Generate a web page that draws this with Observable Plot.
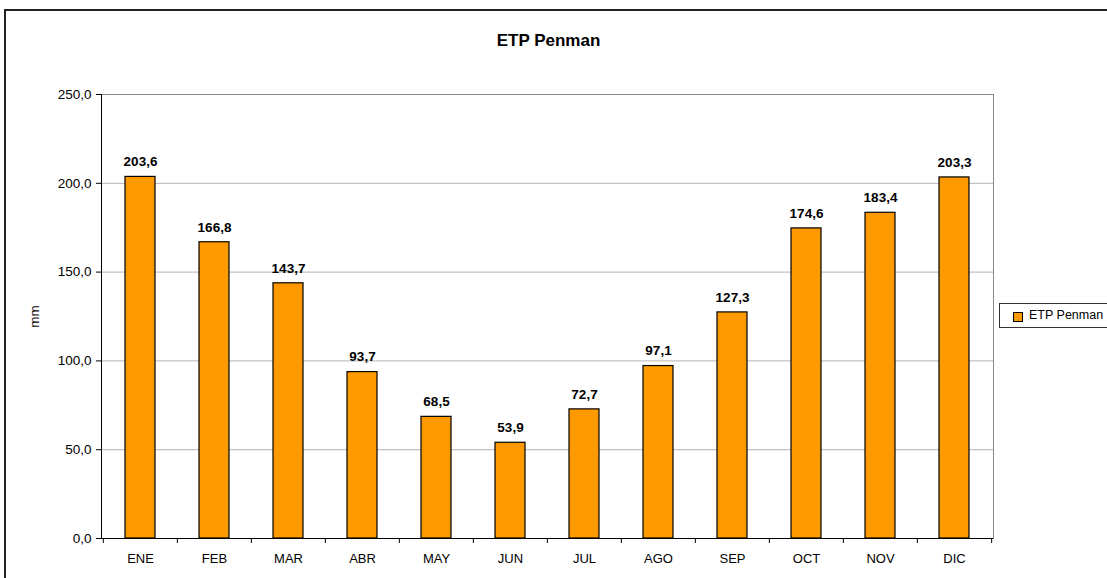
<!DOCTYPE html>
<html>
<head>
<meta charset="utf-8">
<script src="https://cdn.jsdelivr.net/npm/d3@7"></script>
<script src="https://cdn.jsdelivr.net/npm/@observablehq/plot@0.6"></script>
<style>
  html, body { margin: 0; padding: 0; background: #fff; overflow: hidden; }
  #wrap { position: relative; width: 1107px; height: 578px; font-family: "Liberation Sans", Arial, sans-serif; }
  #border { position: absolute; left: 4px; top: 9px; width: 1120px; height: 600px; border: 2px solid #222; box-sizing: border-box; pointer-events: none; }
  #title { position: absolute; left: 0; width: 1097px; top: 31px; text-align: center; font-weight: bold; font-size: 17px; }
  #legend { position: absolute; left: 999px; top: 303px; width: 130px; height: 25px; border: 1px solid #333; box-sizing: border-box; background: #fff; font-size: 12.5px; white-space: nowrap; }
  #legend .sw { position: absolute; left: 13px; top: 8px; width: 8px; height: 8px; background: #FF9900; border: 1px solid #000; }
  #legend .lb { position: absolute; left: 29px; top: 4px; }
  #chart { position: absolute; left: 0; top: 0; }
</style>
</head>
<body>
<div id="wrap">
  <div id="chart"></div>
  <div id="title">ETP Penman</div>
  <div id="legend"><div class="sw"></div><div class="lb">ETP Penman</div></div>
  <div id="border"></div>
</div>
<script>
const months = ["ENE","FEB","MAR","ABR","MAY","JUN","JUL","AGO","SEP","OCT","NOV","DIC"];
const values = [203.6, 166.8, 143.7, 93.7, 68.5, 53.9, 72.7, 97.1, 127.3, 174.6, 183.4, 203.3];
const yTicks = [0, 50, 100, 150, 200, 250];

const data = months.map((m, i) => ({month: m, value: values[i]}));
const fmt = v => v.toFixed(1).replace(".", ",");

const W = 1107, H = 578, mL = 101, mR = 114, mT = 94, mB = 40;
const step = (W - mL - mR) / months.length;

const chart = Plot.plot({
  width: W, height: H,
  marginLeft: mL, marginRight: mR, marginTop: mT, marginBottom: mB,
  style: {fontFamily: "'Liberation Sans', Arial, sans-serif", background: "transparent"},
  x: {domain: months, paddingInner: 0.6, paddingOuter: 0.3, label: null},
  y: {domain: [0, 250], label: null},
  marks: [
    Plot.gridY(yTicks, {stroke: "#b4b4b4", strokeOpacity: 1}),
    Plot.frame({anchor: "right", stroke: "#888"}),
    Plot.frame({anchor: "top", stroke: "#888"}),
    Plot.barY(data, {x: "month", y: "value", fill: "#FF9900", stroke: "#000", strokeWidth: 1.2}),
    Plot.text(data, {x: "month", y: "value", text: d => fmt(d.value), dy: -15, fontWeight: "bold", fontSize: 13.5, fill: "#000"}),
    Plot.ruleY([0], {stroke: "#000", strokeWidth: 1}),
    Plot.frame({anchor: "left", stroke: "#000"}),
    Plot.ruleX(months, {x: d => d, y1: 0, y2: 0, dx: -step / 2, insetTop: 5, stroke: "#000"}),
    Plot.ruleX(months.slice(-1), {x: d => d, y1: 0, y2: 0, dx: step / 2, insetTop: 5, stroke: "#000"}),
    Plot.axisX({tickSize: 0, tickPadding: 15, fontSize: 13, fill: "#000"}),
    Plot.axisY({ticks: yTicks, tickFormat: fmt, tickSize: 5, tickPadding: 5, fontSize: 13.5, fill: "#000", stroke: "#000",
      label: "mm", labelAnchor: "center", labelArrow: "none", labelOffset: 72})
  ]
});
document.getElementById("chart").appendChild(chart);
</script>
</body>
</html>
